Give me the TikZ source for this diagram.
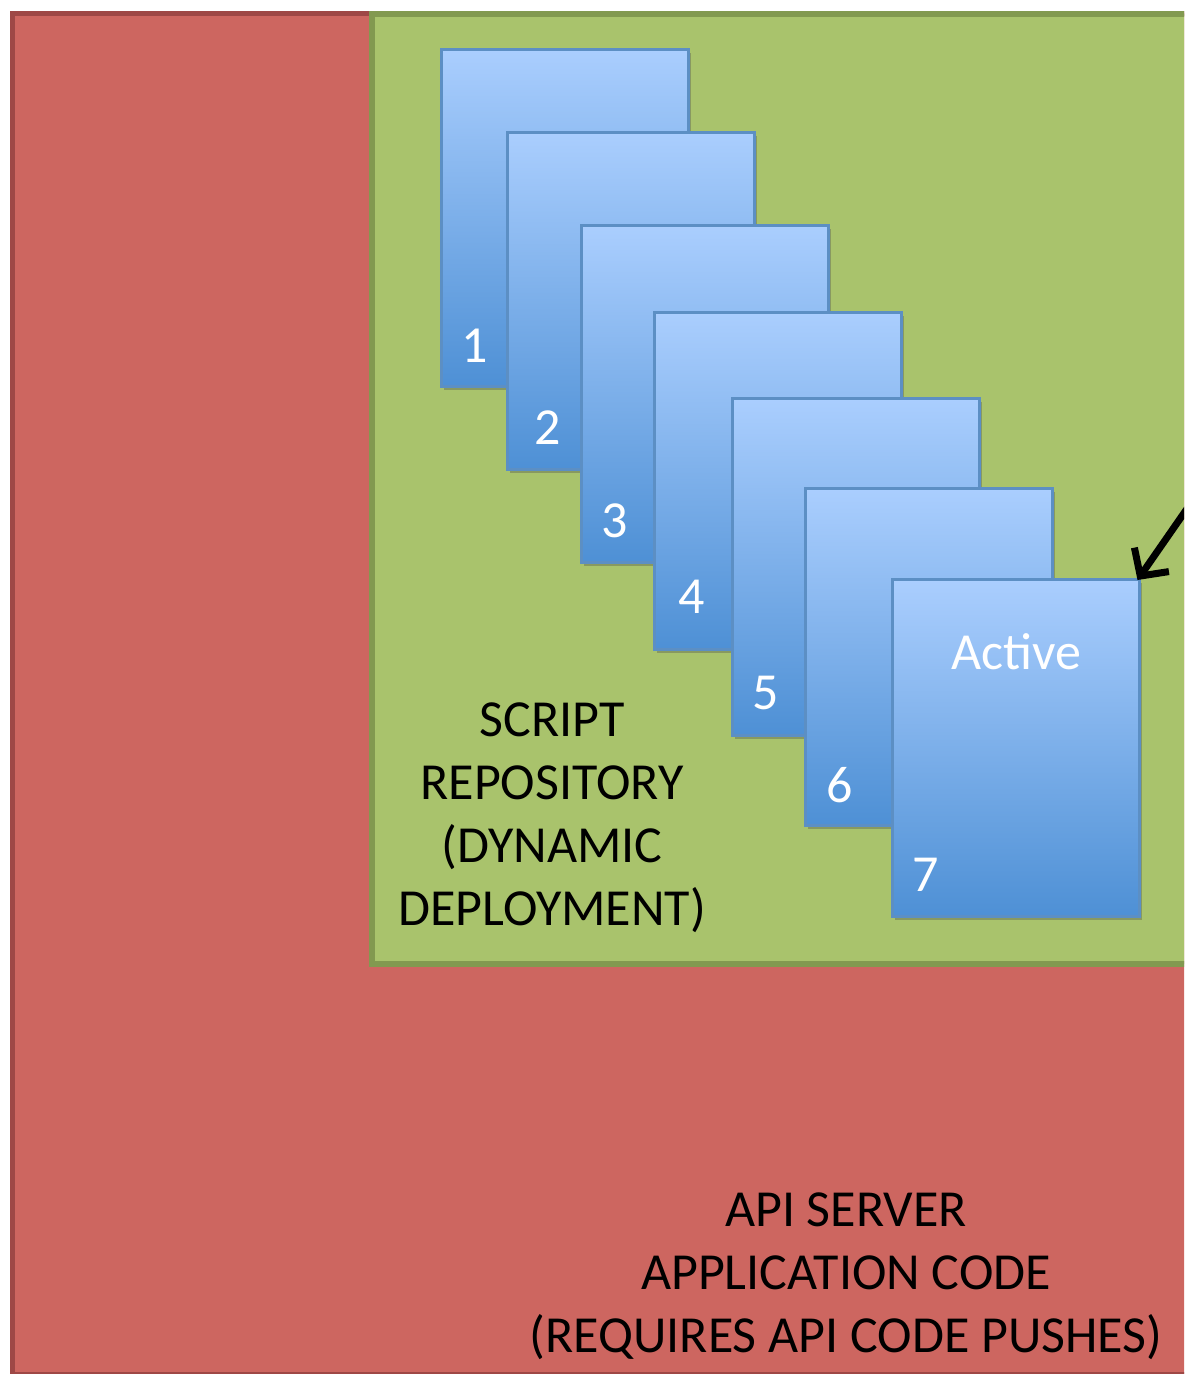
\documentclass[tikz,border=0pt]{standalone}
\usepackage{fontspec}
\setmainfont{Carlito}
\usetikzlibrary{arrows.meta,shadows,calc}
\definecolor{redfill}{RGB}{205,102,96}
\definecolor{redline}{RGB}{158,72,70}
\definecolor{greenfill}{RGB}{169,195,108}
\definecolor{greenline}{RGB}{130,153,80}
\definecolor{cardtop}{RGB}{170,206,254}
\definecolor{cardbot}{RGB}{78,144,213}
\definecolor{cardline}{RGB}{92,143,196}
\tikzset{
  card/.style={rectangle, anchor=north west, inner sep=0pt,
    minimum width=247pt, minimum height=337pt, line width=2.5pt,
    draw=cardline, top color=cardtop, bottom color=cardbot,
    drop shadow={shadow xshift=3pt, shadow yshift=-4pt, opacity=0.35, fill=black!70}},
  num/.style={text=white, font=\fontsize{52}{56}\selectfont, inner sep=0pt},
  bigtext/.style={align=center, font=\fontsize{52}{63}\selectfont, inner sep=0pt},
}
\begin{document}
\begin{tikzpicture}[x=1pt,y=-1pt]
\useasboundingbox (0,0) rectangle (1184,1374);
\clip (0,0) rectangle (1184,1374);
\fill[white] (0,0) rectangle (1184,1374);
\node[rectangle, anchor=north west, inner sep=0pt, minimum width=1200pt, minimum height=1361pt,
  fill=redfill, draw=redline, line width=5.5pt] (server) at (9.5,10.5) {};
\node[rectangle, anchor=north west, inner sep=0pt, minimum width=830pt, minimum height=950pt,
  fill=greenfill, draw=greenline, line width=5.5pt] (repo) at (369,11) {};
\node[card] (c1) at (440,48) {};
\node[card] (c2) at (506,131) {};
\node[card] (c3) at (580,224) {};
\node[card] (c4) at (653,311) {};
\node[card] (c5) at (731,397) {};
\node[card] (c6) at (804,487) {};
\node[card] (c7) at (891,578) {};
\node[num] at ($(c1.north west)+(35,298)$) {1};
\node[num] at ($(c2.north west)+(42,297)$) {2};
\node[num] at ($(c3.north west)+(35,297)$) {3};
\node[num] at ($(c4.north west)+(39,286)$) {4};
\node[num] at ($(c5.north west)+(35,296)$) {5};
\node[num] at ($(c6.north west)+(36,298)$) {6};
\node[num] at ($(c7.north west)+(35,297)$) {7};
\node[num] (active) at ($(c7.north west)+(125,74)$) {Active};
\node[bigtext] (repolabel) at (552,818) {SCRIPT\\REPOSITORY\\(DYNAMIC\\DEPLOYMENT)};
\node[bigtext] (serverlabel) at (846,1276) {API SERVER\\APPLICATION CODE\\(REQUIRES API CODE PUSHES)};
\coordinate (arrowstart) at (1200,490);
\draw[line width=7pt, line cap=round, -{Straight Barb[length=20pt,width=42pt,line width=7pt]}]
  (arrowstart) -- ($(c7.north east)+(-3,2)$);
\end{tikzpicture}
\end{document}
